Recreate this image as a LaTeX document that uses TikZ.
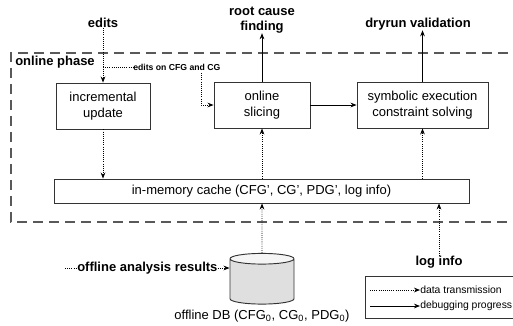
\documentclass[tikz,border=0pt]{standalone}
\usepackage{fontspec}
\setmainfont{Liberation Sans}
\usetikzlibrary{arrows.meta,shapes.geometric}
\begin{document}
\begin{tikzpicture}[x=.75pt,y=-.75pt,
  box/.style={draw=black!80,line width=.7pt,align=center,font=\fontsize{9.75}{11.5}\selectfont},
  lbl/.style={inner sep=0pt,font=\fontsize{9.75}{11}\selectfont\bfseries,align=center},
  note/.style={inner sep=0pt,font=\fontsize{7.8}{9.5}\selectfont},
  data/.style={densely dotted,line width=.6pt,-{Stealth[length=4.5pt,width=3.5pt]}},
  prog/.style={line width=.6pt,-{Stealth[length=4.5pt,width=3.5pt]}}]
  \useasboundingbox (0,0) rectangle (513,325);
  % online phase frame
  \draw[gray!70!black,line width=.9pt,dash pattern=on 7.5pt off 4.5pt] (540,53) -- (11,53) -- (11,222) -- (540,222);
  \node[lbl,anchor=west] (phase) at (15,62) {online phase};
  \node[box,minimum width=70.5pt,minimum height=34.5pt] (inc) at (103,106) {incremental\\update};
  \node[box,minimum width=72pt,minimum height=34.5pt] (slc) at (262,105) {online\\slicing};
  \node[box,minimum width=98.25pt,minimum height=34.5pt] (sym) at (422.5,105) {symbolic execution\\constraint solving};
  \node[box,minimum width=311.25pt,minimum height=18pt] (cache) at (261.5,191) {in-memory cache (CFG', CG', PDG', log info)};
  % inputs and outputs
  \node[lbl] (edits) at (103,23) {edits};
  \node[lbl] (root) at (262,20) {root cause\\finding};
  \node[lbl] (dry) at (418,24) {dryrun validation};
  \node[lbl] (log) at (439,262) {log info};
  \draw[data] (edits) -- (inc);
  \coordinate (br) at (103,67); \coordinate (eo) at (201,73);
  \node[inner sep=0pt,font=\fontsize{6.5}{8}\selectfont\bfseries,anchor=west] (eon) at (133,67) {edits on CFG and CG};
  \draw[densely dotted,line width=.6pt] (br) -- (eon.west);
  \draw[data] (eo) |- (slc.west);
  \draw[prog] (slc) -- (root);
  \draw[prog] (sym.north) -- (sym.north |- dry.south);
  \draw[prog] (slc) -- (sym);
  \draw[data] (inc) -- (inc |- cache.north);
  \draw[data] (cache.north -| slc) -- (slc);
  \draw[data] (cache.north -| sym) -- (sym);
  \draw[data] (log) -- (log |- cache.south);
  % offline part
  \node[cylinder,shape border rotate=90,aspect=1.2,draw=black!80,line width=.7pt,minimum width=48pt,minimum height=38pt,
    cylinder uses custom fill,cylinder body fill=gray!25,cylinder end fill=gray!8] (db) at (262,283) {};
  \node[inner sep=0pt,font=\fontsize{9.75}{11}\selectfont] (dbl) at (262,316) {offline DB (CFG\textsubscript{0}, CG\textsubscript{0}, PDG\textsubscript{0})};
  \draw[data] (db) -- (db |- cache.south);
  \node[lbl,anchor=west] (off) at (77,268) {offline analysis results};
  \coordinate (offs) at (65,268);
  \draw[densely dotted,line width=.6pt] (offs) -- (off.west);
  \draw[data] (off.east) -- (off.east -| db.west);
  % legend
  \draw[black!80,line width=.6pt] (365,276) rectangle (540,318);
  \node[note,anchor=west] (ldata) at (420,290) {data transmission};
  \node[note,anchor=west] (lprog) at (420,306) {debugging progress};
  \coordinate (ld) at (370,290); \coordinate (lp) at (370,306);
  \draw[data] (ld) -- (ldata.west);
  \draw[prog] (lp) -- (lprog.west);
\end{tikzpicture}
\end{document}
